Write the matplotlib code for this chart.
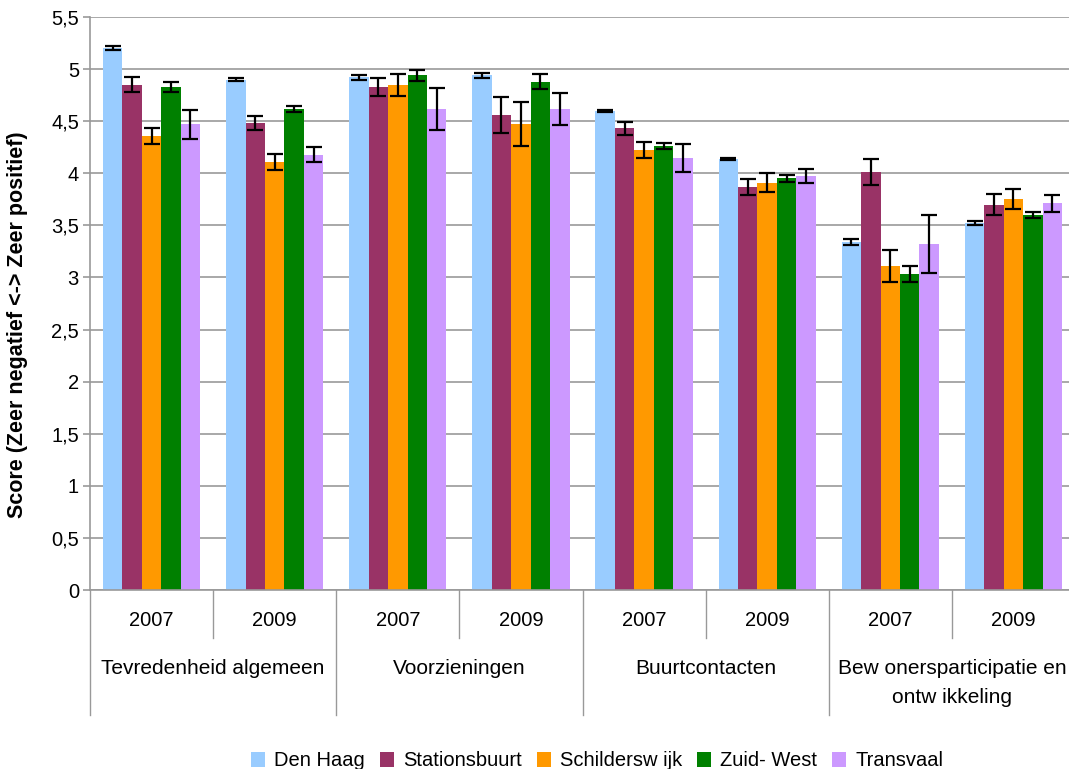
import matplotlib
matplotlib.use("Agg")
import matplotlib.pyplot as plt
import numpy as np
from matplotlib.patches import Patch

plt.rcParams['font.family'] = ['Liberation Sans', 'DejaVu Sans']

years = ["2007", "2009", "2007", "2009", "2007", "2009", "2007", "2009"]
categories = ["Tevredenheid algemeen", "Voorzieningen", "Buurtcontacten",
              "Bew onersparticipatie en\nontw ikkeling"]
series = ["Den Haag", "Stationsbuurt", "Schildersw ijk", "Zuid- West", "Transvaal"]
colors = ["#99CCFF", "#993366", "#FF9900", "#008000", "#CC99FF"]

den_haag      = [5.20, 4.90, 4.92, 4.94, 4.60, 4.14, 3.34, 3.52]
stationsbuurt = [4.85, 4.48, 4.83, 4.56, 4.43, 3.87, 4.01, 3.70]
schilderswijk = [4.36, 4.11, 4.85, 4.47, 4.22, 3.91, 3.11, 3.75]
zuid_west     = [4.83, 4.62, 4.94, 4.88, 4.26, 3.95, 3.03, 3.60]
transvaal     = [4.47, 4.18, 4.62, 4.62, 4.15, 3.97, 3.32, 3.71]

err_den_haag      = [0.02, 0.01, 0.024, 0.024, 0.01, 0.01, 0.03, 0.02]
err_stationsbuurt = [0.07, 0.067, 0.086, 0.17, 0.058, 0.077, 0.125, 0.097]
err_schilderswijk = [0.075, 0.077, 0.106, 0.21, 0.077, 0.088, 0.15, 0.096]
err_zuid_west     = [0.05, 0.03, 0.05, 0.07, 0.03, 0.034, 0.077, 0.03]
err_transvaal     = [0.14, 0.07, 0.20, 0.155, 0.134, 0.067, 0.275, 0.078]

values = [den_haag, stationsbuurt, schilderswijk, zuid_west, transvaal]
errors = [err_den_haag, err_stationsbuurt, err_schilderswijk, err_zuid_west, err_transvaal]

yticks = [0, 0.5, 1, 1.5, 2, 2.5, 3, 3.5, 4, 4.5, 5, 5.5]
ytick_labels = ["0", "0,5", "1", "1,5", "2", "2,5", "3", "3,5", "4", "4,5", "5", "5,5"]

W, H = 1069, 769
FS = 14.5
fig = plt.figure(figsize=(W / 100, H / 100), dpi=100)
ax = fig.add_axes([90 / W, (H - 590) / H, (1075 - 90) / W, 573 / H])

n = len(years)
x = np.arange(n)
bw = 0.158
for i, (vals, errs, col, name) in enumerate(zip(values, errors, colors, series)):
    pos = x + (i - 2) * bw
    ax.bar(pos, vals, width=bw, color=col, edgecolor='none', zorder=2, label=name)
    ax.errorbar(pos, vals, yerr=errs, fmt='none', ecolor='black', elinewidth=1.6,
                capsize=5.5, capthick=1.6, zorder=3)

ax.set_xlim(-0.5, n - 0.5)
ax.set_ylim(0, 5.5)
ax.set_yticks(yticks)
ax.set_yticklabels(ytick_labels, fontsize=FS)
ax.yaxis.grid(True, color='#999999', linewidth=1.2, zorder=0)
ax.set_axisbelow(True)
ax.set_xticks([])
for s in ['top', 'right']:
    ax.spines[s].set_visible(False)
for s in ['left', 'bottom']:
    ax.spines[s].set_color('#999999')
    ax.spines[s].set_linewidth(1.2)
ax.tick_params(axis='y', color='#999999', length=5, width=1.2, pad=3)

ax.set_ylabel("Score (Zeer negatief <-> Zeer positief)", fontsize=15.5,
              fontweight='bold')
ax.yaxis.set_label_coords(-62 / 985, 265 / 573)

trans = ax.get_xaxis_transform()
# year separators (short)
for b in [0.5, 2.5, 4.5, 6.5]:
    ax.plot([b, b], [0, -48 / 573], transform=trans, color='#999999',
            linewidth=1.0, clip_on=False)
# group separators (long)
for b in [-0.5, 1.5, 3.5, 5.5, 7.5]:
    ax.plot([b, b], [0, -125 / 573], transform=trans, color='#999999',
            linewidth=1.0, clip_on=False)

for xi, yr in zip(x, years):
    ax.text(xi, -30 / 573, yr, transform=trans, ha='center', va='center', fontsize=FS)

for gi, cat in enumerate(categories):
    ypos = -78 / 573 if "\n" not in cat else -93 / 573
    ax.text(2 * gi + 0.5, ypos, cat, transform=trans, ha='center', va='center',
            fontsize=15, linespacing=1.72)

handles = [Patch(facecolor=c, edgecolor='none', label=s) for c, s in zip(colors, series)]
fig.legend(handles=handles, loc='center', bbox_to_anchor=(597 / W, 8 / H), ncol=5,
           frameon=False, fontsize=FS, handlelength=0.7, handleheight=0.7,
           handletextpad=0.45, columnspacing=0.75, borderaxespad=0)

fig.savefig("out.png", dpi=100)
